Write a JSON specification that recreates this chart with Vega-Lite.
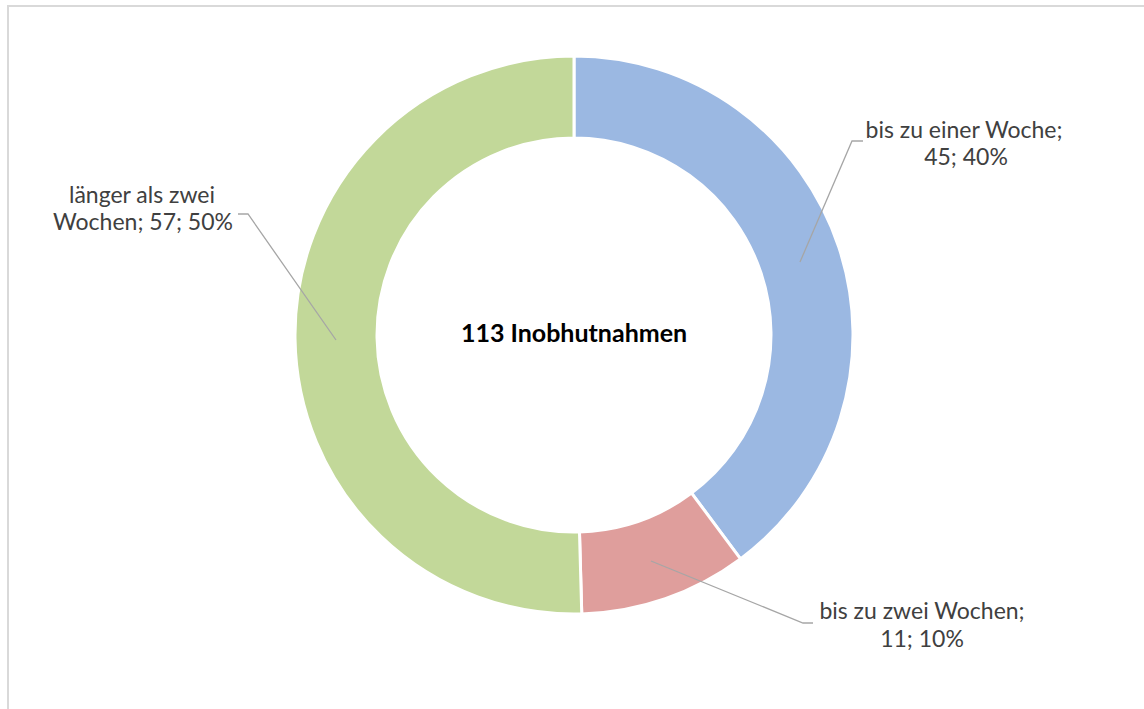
{
  "$schema": "https://vega.github.io/schema/vega-lite/v6.json",
  "width": 1132,
  "height": 658,
  "autosize": {"type": "none"},
  "padding": {"left": 8, "top": 6, "right": 4, "bottom": 45},
  "background": "white",
  "config": {"view": {"stroke": null}},
  "datasets": {
    "slices": [
      {"kategorie": "bis zu einer Woche", "anzahl": 45, "ord": 1},
      {"kategorie": "bis zu zwei Wochen", "anzahl": 11, "ord": 2},
      {"kategorie": "länger als zwei Wochen", "anzahl": 57, "ord": 3}
    ],
    "frame": [{"x0": -566, "x1": 3000, "y0": 329, "y1": -3000}],
    "leaders": [
      {"grp": "a", "o": 1, "x": 226, "y": 73},
      {"grp": "a", "o": 2, "x": 278, "y": 194},
      {"grp": "a", "o": 3, "x": 289, "y": 194},
      {"grp": "b", "o": 1, "x": 77, "y": -226},
      {"grp": "b", "o": 2, "x": 229, "y": -288},
      {"grp": "b", "o": 3, "x": 239, "y": -288},
      {"grp": "c", "o": 1, "x": -238, "y": -5},
      {"grp": "c", "o": 2, "x": -326, "y": 121},
      {"grp": "c", "o": 3, "x": -336, "y": 121}
    ],
    "labels": [
      {"t": "bis zu einer Woche;", "x": 390, "y": 204},
      {"t": "45; 40%", "x": 392, "y": 177},
      {"t": "bis zu zwei Wochen;", "x": 348, "y": -277},
      {"t": "11; 10%", "x": 348, "y": -305},
      {"t": "länger als zwei", "x": -432, "y": 139},
      {"t": "Wochen; 57; 50%", "x": -431, "y": 112}
    ],
    "center": [{"t": "113 Inobhutnahmen", "x": 0, "y": 1}]
  },
  "layer": [
    {
      "data": {"name": "frame"},
      "mark": {"type": "rect", "filled": false, "stroke": "#D9D9D9", "strokeWidth": 2},
      "encoding": {
        "x": {"field": "x0", "type": "quantitative", "scale": {"domain": [-566, 566], "nice": false, "zero": false}, "axis": null},
        "x2": {"field": "x1"},
        "y": {"field": "y0", "type": "quantitative", "scale": {"domain": [-329, 329], "nice": false, "zero": false}, "axis": null},
        "y2": {"field": "y1"}
      }
    },
    {
      "data": {"name": "slices"},
      "mark": {"type": "arc", "innerRadius": 197, "outerRadius": 279, "stroke": "white", "strokeWidth": 3},
      "encoding": {
        "theta": {"field": "anzahl", "type": "quantitative", "stack": true},
        "order": {"field": "ord", "type": "quantitative"},
        "color": {
          "field": "kategorie",
          "type": "nominal",
          "scale": {
            "domain": ["bis zu einer Woche", "bis zu zwei Wochen", "länger als zwei Wochen"],
            "range": ["#9BB8E2", "#DF9E9C", "#C2D899"]
          },
          "legend": null
        }
      }
    },
    {
      "data": {"name": "leaders"},
      "mark": {"type": "line", "color": "#A6A6A6", "strokeWidth": 1.3},
      "encoding": {
        "x": {"field": "x", "type": "quantitative", "scale": {"domain": [-566, 566], "nice": false, "zero": false}, "axis": null},
        "y": {"field": "y", "type": "quantitative", "scale": {"domain": [-329, 329], "nice": false, "zero": false}, "axis": null},
        "detail": {"field": "grp"},
        "order": {"field": "o", "type": "quantitative"}
      }
    },
    {
      "data": {"name": "labels"},
      "mark": {"type": "text", "font": "Lato", "fontSize": 23, "color": "#404040", "align": "center", "baseline": "middle"},
      "encoding": {
        "x": {"field": "x", "type": "quantitative", "scale": {"domain": [-566, 566], "nice": false, "zero": false}, "axis": null},
        "y": {"field": "y", "type": "quantitative", "scale": {"domain": [-329, 329], "nice": false, "zero": false}, "axis": null},
        "text": {"field": "t"}
      }
    },
    {
      "data": {"name": "center"},
      "mark": {"type": "text", "font": "Lato", "fontSize": 25, "fontWeight": "bold", "color": "#000000", "align": "center", "baseline": "middle"},
      "encoding": {
        "x": {"field": "x", "type": "quantitative", "scale": {"domain": [-566, 566], "nice": false, "zero": false}, "axis": null},
        "y": {"field": "y", "type": "quantitative", "scale": {"domain": [-329, 329], "nice": false, "zero": false}, "axis": null},
        "text": {"field": "t"}
      }
    }
  ]
}
